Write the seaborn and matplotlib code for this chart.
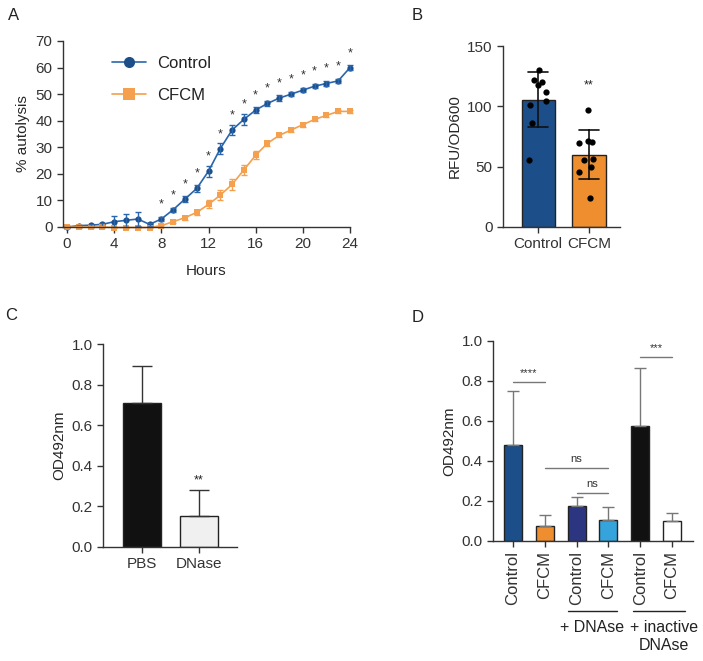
import numpy as np
import pandas as pd
import matplotlib
matplotlib.use('Agg')
import matplotlib.pyplot as plt
import seaborn as sns

# ---- datos panel A (autolisis en el tiempo) ----
hours = list(range(25))
ctrl_mean = [0, 0.5, 0.7, 1, 2, 2.5, 3, 1, 3, 6.5, 10.5, 14.5, 21, 29.5, 36.5, 40.5,
             44, 46.5, 48.5, 50, 51.5, 53, 54, 55, 60]
ctrl_err = [0.3, 0.4, 0.4, 0.5, 2, 2.5, 2.5, 0.6, 0.8, 0.8, 1, 1.2, 2, 2, 2, 2,
            1.2, 1, 1, 0.8, 0.8, 0.8, 0.8, 0.8, 0.8]
cfcm_mean = [0, 0, 0, 0, -0.2, -0.2, -0.2, -0.2, 0.5, 2, 3.5, 5.5, 8.5, 12, 16, 21.5,
             27, 31.5, 34.5, 36.5, 38.5, 40.5, 42, 43.5, 43.5]
cfcm_err = [0.2, 0.2, 0.2, 0.2, 0.2, 0.2, 0.2, 0.2, 0.4, 0.6, 0.8, 1, 1.5, 2, 2, 2,
            1.5, 1, 0.8, 0.8, 0.8, 0.6, 0.6, 0.6, 0.6]
star_hours = list(range(8, 25))

# ---- datos panel B ----
b_groups = ['Control', 'CFCM']
b_control = [130, 120.4, 122, 117.5, 111.6, 104.7, 101, 86.5, 55.5]
b_cfcm = [97, 70, 71.5, 70.7, 55.5, 56.3, 50, 45.8, 23.8]

# ---- datos panel C ----
c_groups = ['PBS', 'DNase']
c_mean = [0.71, 0.155]
c_err = [0.18, 0.125]

# ---- datos panel D ----
d_groups = ['Control', 'CFCM', 'Control ', 'CFCM ', 'Control  ', 'CFCM  ']
d_mean = [0.48, 0.075, 0.175, 0.105, 0.575, 0.10]
d_err = [0.27, 0.055, 0.045, 0.065, 0.29, 0.04]

blue_line = '#2a66ad'
blue_dot = '#1c4f8a'
orange_line = '#f4a04e'
blue_bar = '#1c4f8a'
orange_bar = '#ef8e2e'

sns.set_style('ticks')
plt.rcParams['font.family'] = ['Liberation Sans', 'DejaVu Sans']
plt.rcParams['axes.linewidth'] = 1.0
plt.rcParams['xtick.major.width'] = 1.0
plt.rcParams['ytick.major.width'] = 1.0
plt.rcParams['xtick.major.size'] = 4
plt.rcParams['ytick.major.size'] = 4
plt.rcParams['xtick.labelsize'] = 11
plt.rcParams['ytick.labelsize'] = 11
plt.rcParams['text.color'] = '#222222'
plt.rcParams['xtick.color'] = '#333333'
plt.rcParams['ytick.color'] = '#333333'
plt.rcParams['axes.edgecolor'] = '#333333'

np.random.seed(3)
fig = plt.figure(figsize=(7.03, 6.61), dpi=100)
W, H = 703, 661


def add_ax(l, t, r, b):
    return fig.add_axes([l / W, 1 - b / H, (r - l) / W, (b - t) / H])


# ---------- A ----------
axA = add_ax(63, 41, 350, 227)
dfA = pd.DataFrame({'Hours': hours * 2,
                    'val': ctrl_mean + cfcm_mean,
                    'grp': ['Control'] * 25 + ['CFCM'] * 25})
sns.lineplot(data=dfA, x='Hours', y='val', hue='grp', style='grp',
             palette={'Control': blue_line, 'CFCM': orange_line},
             markers={'Control': 'o', 'CFCM': 's'}, dashes=False,
             markersize=4.5, linewidth=1.2, markeredgewidth=0, ax=axA, clip_on=False)
for m, e, c in [(ctrl_mean, ctrl_err, blue_line), (cfcm_mean, cfcm_err, orange_line)]:
    axA.errorbar(hours, m, yerr=e, fmt='none', ecolor=c, elinewidth=1, capsize=2.5, clip_on=False)
axA.lines[0].set_markerfacecolor(blue_dot)
for h in star_hours:
    axA.text(h, ctrl_mean[h] + 5.5, '*', ha='center', va='center', fontsize=9, color='#333333')
axA.set_xlim(-0.34, 24)
axA.set_ylim(0, 70)
axA.set_xticks(range(0, 25, 4))
axA.set_yticks(range(0, 71, 10))
axA.set_xlabel('Hours', fontsize=11, labelpad=9)
axA.set_ylabel('% autolysis', fontsize=11)
leg = axA.legend(title=None, loc='upper left', bbox_to_anchor=(0.12, 1.0), frameon=False,
                 fontsize=12, labelspacing=1.0, handlelength=2.0, handletextpad=0.7)
for lh in leg.legend_handles:
    lh.set_markersize(8)
leg.legend_handles[0].set_markerfacecolor(blue_dot)
sns.despine(ax=axA)

# ---------- B ----------
axB = add_ax(503, 46, 620, 227)
dfB = pd.DataFrame({'grp': ['Control'] * len(b_control) + ['CFCM'] * len(b_cfcm),
                    'val': b_control + b_cfcm})
sns.barplot(data=dfB, x='grp', y='val', hue='grp', order=b_groups,
            palette={'Control': blue_bar, 'CFCM': orange_bar}, errorbar='sd', saturation=1,
            capsize=0.4, err_kws={'color': '#111111', 'linewidth': 1.2},
            edgecolor='#222222', linewidth=1, width=0.65, ax=axB, legend=False)
sns.stripplot(data=dfB, x='grp', y='val', order=b_groups, color='black', size=4.5,
              jitter=0.2, ax=axB)
axB.text(1, 117, '**', ha='center', va='center', fontsize=9)
axB.set_xlim(-0.69, 1.61)
axB.set_ylim(0, 150)
axB.set_yticks([0, 50, 100, 150])
axB.set_xlabel('')
axB.set_ylabel('RFU/OD600', fontsize=11)
sns.despine(ax=axB)

# ---------- C ----------
axC = add_ax(103, 344, 237, 547)
dfC = pd.DataFrame({'grp': c_groups, 'val': c_mean})
sns.barplot(data=dfC, x='grp', y='val', hue='grp', saturation=1,
            palette={'PBS': '#111111', 'DNase': '#f0f0f0'},
            edgecolor='#222222', linewidth=1, width=0.65, ax=axC, legend=False)
axC.errorbar(range(2), c_mean, yerr=[[0, 0], c_err], fmt='none', ecolor='#333333',
             elinewidth=1, capsize=7, capthick=1)
axC.text(1, 0.30, '**', ha='center', va='bottom', fontsize=9)
axC.set_xlim(-0.684, 1.667)
axC.set_ylim(0, 1.0)
axC.set_yticks(np.arange(0, 1.01, 0.2))
axC.set_yticklabels([f'{v:.1f}' for v in np.arange(0, 1.01, 0.2)])
axC.set_xlabel('')
axC.set_ylabel('OD492nm', fontsize=11)
sns.despine(ax=axC)

# ---------- D ----------
axD = add_ax(493, 341, 693, 541)
d_colors = [blue_bar, orange_bar, '#2c3580', '#36a4dc', '#111111', '#ffffff']
dfD = pd.DataFrame({'grp': d_groups, 'val': d_mean})
sns.barplot(data=dfD, x='grp', y='val', hue='grp', palette=dict(zip(d_groups, d_colors)),
            saturation=1, edgecolor='#222222', linewidth=1, width=0.57, ax=axD, legend=False)
axD.errorbar(range(6), d_mean, yerr=[[0] * 6, d_err], fmt='none', ecolor='#777777',
             elinewidth=1, capsize=4, capthick=1)
sig = [(0, 1, 0.795, '****'), (1, 3, 0.365, 'ns'), (2, 3, 0.24, 'ns'), (4, 5, 0.92, '***')]
for x0, x1, y, lab in sig:
    axD.plot([x0, x1], [y, y], color='#777777', lw=1)
    axD.text((x0 + x1) / 2, y + 0.02, lab, ha='center', va='bottom', fontsize=8, color='#333333')
axD.set_xlim(-0.63, 5.66)
axD.set_ylim(0, 1.0)
axD.set_yticks(np.arange(0, 1.01, 0.2))
axD.set_yticklabels([f'{v:.1f}' for v in np.arange(0, 1.01, 0.2)])
axD.set_xticks(range(6))
axD.set_xticklabels([g.strip() for g in d_groups], rotation=90, fontsize=12)
axD.set_xlabel('')
axD.set_ylabel('OD492nm', fontsize=11)
sns.despine(ax=axD)
trD = axD.get_xaxis_transform()
for x0, x1, xc, lab in [(1.73, 3.27, 2.5, '+ DNAse'), (3.77, 5.4, 4.75, '+ inactive\nDNAse')]:
    axD.plot([x0, x1], [-0.35, -0.35], color='#222222', lw=1, transform=trD, clip_on=False)
    axD.text(xc, -0.395, lab, ha='center', va='top', fontsize=11.5, transform=trD,
             linespacing=1.25)

# panel letters
for lab, x, y in [('A', 8, 15), ('B', 412, 15), ('C', 5, 315), ('D', 412, 317)]:
    fig.text(x / W, 1 - y / H, lab, fontsize=12, ha='left', va='center')

fig.savefig('out.png', dpi=100)
